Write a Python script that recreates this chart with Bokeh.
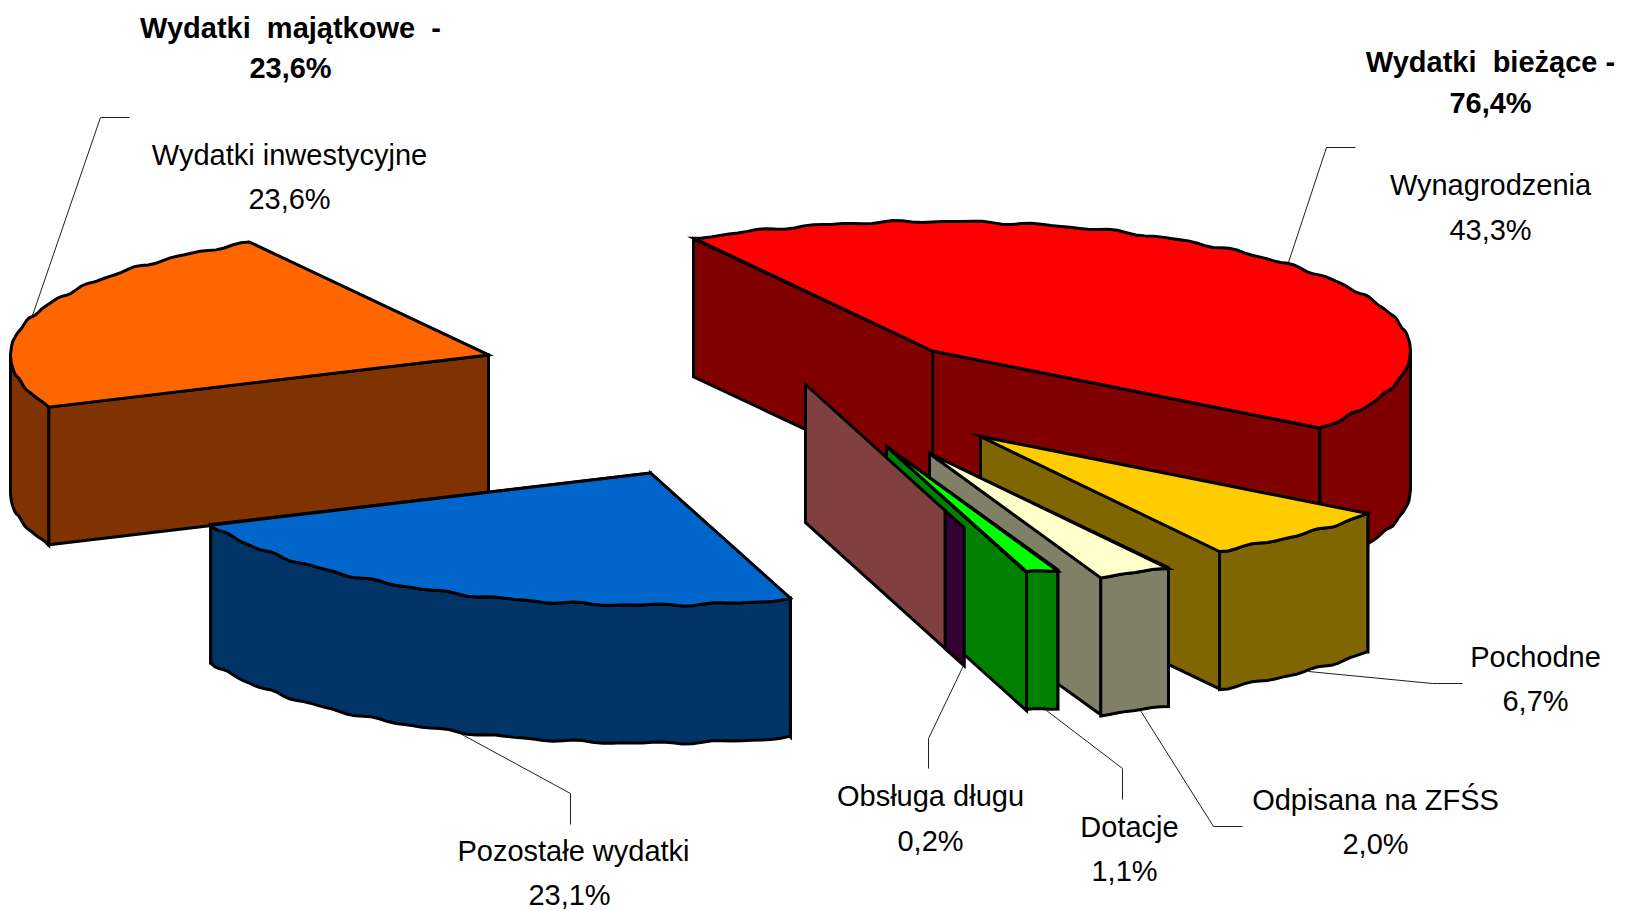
import numpy as np
from bokeh.core.properties import value
from bokeh.embed import file_html
from bokeh.models import ColumnDataSource, Range1d
from bokeh.plotting import figure
from bokeh.resources import INLINE

# Budget shares, percent, clockwise from the back-left edge of the ring
categories = ["Wydatki inwestycyjne", "Wynagrodzenia", "Pochodne", "Odpisana na ZFŚS",
              "Dotacje", "Obsługa długu", "Pozostałe wydatki"]
shares = [23.6, 43.3, 6.7, 2.0, 1.1, 0.2, 23.1]
group_titles = ["Wydatki\u00a0 majątkowe\u00a0 -", "Wydatki\u00a0 bieżące -"]
group_members = [["Wydatki inwestycyjne"],
                 ["Wynagrodzenia", "Pochodne", "Odpisana na ZFŚS", "Dotacje",
                  "Obsługa długu", "Pozostałe wydatki"]]

# Colours of each slice: top surface, cut faces and rim
top_colors = {"Wydatki inwestycyjne": "#FF6600", "Wynagrodzenia": "#FF0000", "Pochodne": "#FFCC00",
              "Odpisana na ZFŚS": "#FFFFCC", "Dotacje": "#00FF00", "Obsługa długu": "#FF8080",
              "Pozostałe wydatki": "#0066CC"}
side_colors = {"Wydatki inwestycyjne": "#803300", "Wynagrodzenia": "#800000", "Pochodne": "#806600",
               "Odpisana na ZFŚS": "#808066", "Dotacje": "#008000", "Obsługa długu": "#804040",
               "Pozostałe wydatki": "#003366"}
sliver_color = "#330033"

# Pie projection, in page pixels; the near half of the ellipse is slightly deeper
RX, RY_BACK, RY_FRONT, DEPTH = 478.0, 129.5, 132.0, 138.0
START_ANGLE = 120.0
apex = {"Wydatki inwestycyjne": (488, 354.5), "Wynagrodzenia": (932, 350.5), "Pochodne": (980, 436),
        "Odpisana na ZFŚS": (929, 453), "Dotacje": (886, 446), "Obsługa długu": (805, 384),
        "Pozostałe wydatki": (650, 472.5)}
# Small per-slice correction of the end angle caused by the 3-D projection
projection_shift = {"Wynagrodzenia": 0.0, "Pochodne": 0.0, "Odpisana na ZFŚS": -1.8, "Dotacje": -1.8,
                    "Obsługa długu": -1.1, "Pozostałe wydatki": -1.9, "Wydatki inwestycyjne": 0.0}
paint_order = ["Wydatki inwestycyjne", "Wynagrodzenia", "Pochodne", "Odpisana na ZFŚS",
               "Dotacje", "Obsługa długu", "Pozostałe wydatki"]


def angle_spans():
    """Start and end angle of each slice, walking clockwise from the shares."""
    spans, running = {}, START_ANGLE
    prev_end = START_ANGLE
    order = categories[1:] + categories[:1]
    for name in order:
        running -= shares[categories.index(name)] * 3.6
        end = running + projection_shift[name]
        spans[name] = (prev_end, end)
        prev_end = end
    return spans


def wobble(t):
    return 0.9 * np.sin(np.radians(t) * 41) + 0.6 * np.sin(np.radians(t) * 67 + 1.0)


def rim_point(center, t):
    r = np.radians(t)
    s = np.sin(r)
    b = np.where(s < 0, RY_FRONT, RY_BACK)
    return center[0] + RX * np.cos(r), center[1] - b * s


def arc(center, t0, t1):
    n = max(2, int(abs(t1 - t0) / 1.2) + 2)
    t = np.linspace(t0, t1, n)
    x, y = rim_point(center, t)
    return x, y + wobble(t)


xs, ys, fills = [], [], []


def face(px, py, color):
    xs.append(list(px))
    ys.append(list(py))
    fills.append(color)


def cut_face(center, t, color):
    x, y = rim_point(center, t)
    x, y = float(x), float(y)
    face([center[0], x, x, center[0]], [center[1], y, y + DEPTH, center[1] + DEPTH], color)


spans = angle_spans()
for name in paint_order:
    c = apex[name]
    t0, t1 = spans[name]
    side, top = side_colors[name], top_colors[name]
    if name == "Obsługa długu":
        # The thinnest slice: a cut face and a narrow dark strip running on along the same edge
        t1 = -73.0
        x, y = map(float, rim_point(c, t1))
        cut_face(c, t1, side)
        fx = c[0] + (x - c[0]) * 1.136
        fy = c[1] + (y - c[1]) * 1.136
        face([x, fx, fx, x], [y, fy, fy + DEPTH, y + DEPTH], sliver_color)
        continue
    # The cut face nearer the viewer is painted last so the far one stays hidden
    for t in sorted((t0, t1), key=lambda a: float(rim_point(c, a)[1])):
        cut_face(c, t, side)
    # Only the front half of the rim faces the viewer
    hi, lo = min(t0, 0.0), max(t1, -180.0)
    if hi > lo:
        ax, ay = arc(c, hi, lo)
        face(np.r_[ax, ax[::-1]], np.r_[ay, ay[::-1] + DEPTH], side)
    ax, ay = arc(c, t0, t1)
    face(np.r_[c[0], ax], np.r_[c[1], ay], top)

p = figure(width=1625, height=910, output_backend="svg", toolbar_location=None,
           x_range=Range1d(0, 1625), y_range=Range1d(910, 0), min_border=0,
           background_fill_color="white", border_fill_color="white", outline_line_color=None)
p.axis.visible = False
p.grid.visible = False

# Leader lines from the labels to their slices
leader_xs = [[129, 100, 32], [1355, 1326, 1287], [1462, 1432, 1308], [1242, 1213, 1138],
             [1122, 1122, 1046], [928, 928, 964], [570, 570, 456]]
leader_ys = [[117, 117, 315], [147, 147, 265], [683, 683, 671], [826, 826, 707],
             [799, 768, 710], [768, 738, 663], [824, 793, 731]]
p.multi_line(leader_xs, leader_ys, line_color="#202020", line_width=1)

p.patches("xs", "ys", source=ColumnDataSource(dict(xs=xs, ys=ys, fill=fills)), fill_color="fill",
          line_color="black", line_width=3, line_join="miter")

# Label anchors: name line and value line
label_xy = {"Wydatki inwestycyjne": (289, 154, 289, 198), "Wynagrodzenia": (1490, 184, 1490, 229),
            "Pochodne": (1535, 656, 1535, 700), "Odpisana na ZFŚS": (1375, 799, 1375, 843),
            "Dotacje": (1129, 826, 1124, 870), "Obsługa długu": (930, 795, 930, 840),
            "Pozostałe wydatki": (573, 850, 569, 894)}
title_xy = [(290, 27, 290, 67), (1490, 61, 1490, 102)]


def pct(v):
    return f"{v:.1f}%".replace(".", ",")


tx, ty, tt = [], [], []
for name, v in zip(categories, shares):
    x0, y0, x1, y1 = label_xy[name]
    tx += [x0, x1]
    ty += [y0, y1]
    tt += [name, pct(v)]
p.text(tx, ty, text=tt, text_font=value("Liberation Sans"), text_font_size="29px",
       text_align="center", text_baseline="middle", text_color="black")

bx, by, bt = [], [], []
for title, members, (x0, y0, x1, y1) in zip(group_titles, group_members, title_xy):
    total = sum(shares[categories.index(m)] for m in members)
    bx += [x0, x1]
    by += [y0, y1]
    bt += [title, pct(total)]
p.text(bx, by, text=bt, text_font=value("Liberation Sans"), text_font_size="29px",
       text_font_style="bold", text_align="center", text_baseline="middle", text_color="black")

open("out.html", "w").write(file_html(p, INLINE))
